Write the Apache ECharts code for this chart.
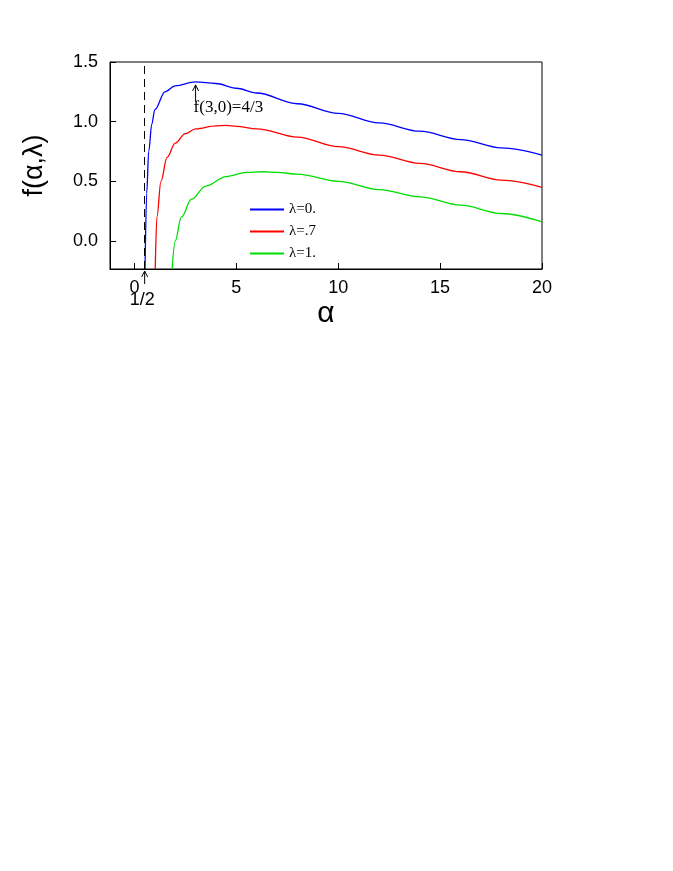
<!DOCTYPE html>
<html>
<head>
<meta charset="UTF-8">
<script src="https://cdn.jsdelivr.net/npm/echarts@6/dist/echarts.min.js"></script>
</head>
<body style="margin:0;background:#fff">
<div id="chart" style="width:673px;height:871px"></div>
<script>
// curves
let blueData = [[0.52,-0.235],[0.6,0.4],[0.7,0.75],[0.85,0.98],[1,1.1],[1.5,1.25],[2,1.3],[3,1.333],[4,1.32],[5,1.28],[6,1.24],[8,1.15],[10,1.07],[12,0.99],[14,0.92],[16,0.85],[18,0.78],[20,0.72]];
let redData = [[1.02,-0.235],[1.1,0.2],[1.3,0.5],[1.6,0.7],[2,0.82],[2.5,0.9],[3,0.94],[4,0.965],[4.5,0.968],[5,0.96],[6,0.94],[8,0.87],[10,0.79],[12,0.72],[14,0.65],[16,0.58],[18,0.51],[20,0.45]];
let greenData = [[1.85,-0.235],[2,0.0],[2.3,0.2],[2.8,0.35],[3.5,0.46],[4.5,0.54],[5.5,0.575],[6.3,0.58],[7,0.575],[8,0.56],[10,0.5],[12,0.43],[14,0.37],[16,0.3],[18,0.23],[20,0.16]];
let seriesNames = ['λ=0.', 'λ=.7', 'λ=1.'];
let seriesColors = ['#0000ff', '#ff0000', '#00dd00'];

let serif = 'Liberation Serif';
let sans = 'Liberation Sans';
let chart = echarts.init(document.getElementById('chart'));
let mk = (name, data, color) => ({
    name: name, type: 'line', data: data, smooth: 0.35, smoothMonotone: 'x', showSymbol: false,
    lineStyle: {color: color, width: 1.3}, itemStyle: {color: color}
});
chart.setOption({
    animation: false,
    grid: {left: 110, top: 62, width: 432, height: 207},
    legend: {
        orient: 'vertical', left: 245, top: 197, itemWidth: 34, itemHeight: 2, itemGap: 7,
        icon: 'rect', textStyle: {fontFamily: serif, fontSize: 15, color: '#000'},
        data: seriesNames
    },
    xAxis: {
        type: 'value', min: -1.2, max: 20, interval: 5,
        name: 'α', nameLocation: 'middle', nameGap: 30,
        nameTextStyle: {fontFamily: sans, fontSize: 30, color: '#000'},
        axisLine: {onZero: false, lineStyle: {color: '#000'}},
        axisTick: {inside: true, length: 6, customValues: [0, 5, 10, 15, 20]},
        axisLabel: {customValues: [0, 5, 10, 15, 20], margin: 10, fontFamily: sans, fontSize: 18, color: '#000'},
        splitLine: {show: false}
    },
    yAxis: {
        type: 'value', min: -0.235, max: 1.5,
        name: 'f(α,λ)', nameLocation: 'middle', nameGap: 62,
        nameTextStyle: {fontFamily: sans, fontSize: 27, color: '#000'},
        axisLine: {onZero: false, lineStyle: {color: '#000'}},
        axisTick: {inside: true, length: 6, customValues: [0, 0.5, 1, 1.5]},
        axisLabel: {customValues: [0, 0.5, 1, 1.5], margin: 12, formatter: v => v.toFixed(1), fontFamily: sans, fontSize: 18, color: '#000'},
        splitLine: {show: false}
    },
    series: [
        mk(seriesNames[0], blueData, seriesColors[0]),
        mk(seriesNames[1], redData, seriesColors[1]),
        mk(seriesNames[2], greenData, seriesColors[2]),
        {
            type: 'line', data: [], silent: true,
            markLine: {
                symbol: 'none', silent: true, label: {show: false},
                lineStyle: {color: '#000', type: [8, 5], width: 1},
                data: [{xAxis: 0.5}]
            }
        }
    ]
});
// box, arrows and notes
let p = (x, y) => chart.convertToPixel({gridIndex: 0}, [x, y]);
let pk = p(3, 1.333), half = p(0.5, -0.235);
let arrow = (x, y1, y2) => [
    {type: 'line', shape: {x1: x, y1: y1, x2: x, y2: y2}, style: {stroke: '#000', lineWidth: 1}},
    {type: 'polyline', shape: {points: [[x - 3, y2 + 6], [x, y2], [x + 3, y2 + 6]]}, style: {stroke: '#000', fill: null, lineWidth: 1}}
];
chart.setOption({
    graphic: [
        {type: 'rect', shape: {x: 110, y: 62, width: 432, height: 207}, style: {stroke: '#000', fill: null, lineWidth: 1}},
        ...arrow(pk[0], pk[1] + 20, pk[1] + 3),
        {type: 'text', x: pk[0] - 2, y: pk[1] + 17, style: {text: 'f(3,0)=4/3', font: '17px "Liberation Serif"', fill: '#000'}},
        ...arrow(half[0], half[1] + 15, half[1] + 2),
        {type: 'text', x: half[0] - 15, y: half[1] + 22, style: {text: '1/2', font: '18px "Liberation Sans"', fill: '#000'}}
    ]
});
</script>
</body>
</html>
